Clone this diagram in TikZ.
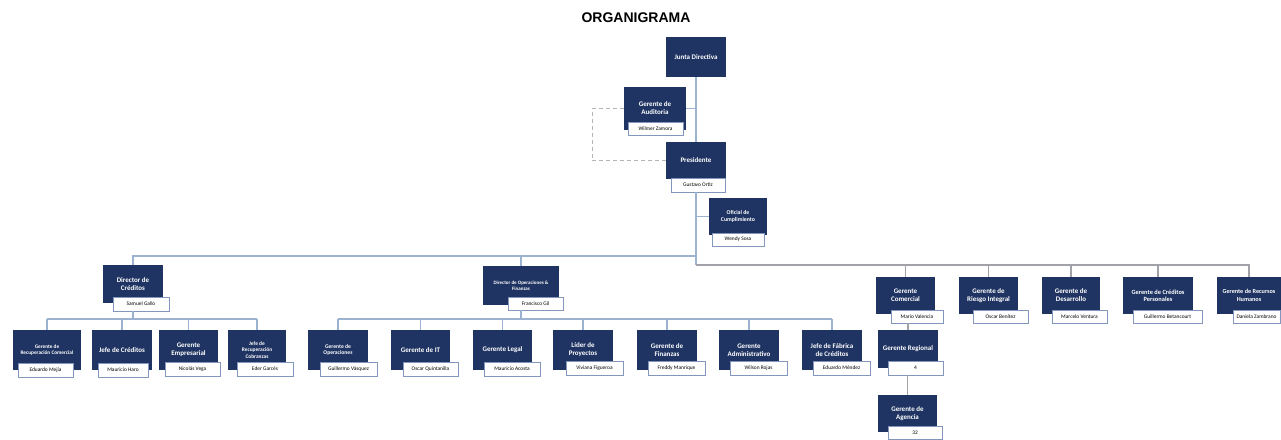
\documentclass[tikz,border=0pt]{standalone}
\usepackage{fontspec}
\setmainfont{Carlito}
\newfontfamily\titlefont{Liberation Sans}
\definecolor{navy}{RGB}{31,52,98}
\definecolor{subline}{RGB}{130,150,190}
\definecolor{connblue}{RGB}{155,178,208}
\definecolor{conngray}{RGB}{160,162,168}
\definecolor{dashgray}{RGB}{180,180,180}
\tikzset{
  mainbox/.style={fill=navy, text=white, font=\bfseries\fontsize{7}{8}\selectfont,
    align=center, anchor=north west, inner sep=0.5pt, outer sep=0pt},
  subbox/.style={fill=white, draw=subline, line width=0.8pt, text=black,
    font=\fontsize{5.4}{6}\selectfont, align=center, anchor=north west,
    inner sep=0.5pt, outer sep=0pt},
  conn/.style={draw=connblue, line width=1.4pt},
  conng/.style={draw=conngray, line width=1.4pt},
  dashconn/.style={draw=dashgray, line width=0.9pt, dashed, dash pattern=on 4pt off 3pt}
}
\newcommand\orgnode[7][]{%
  \pgfmathsetmacro\ow{#4-#2}\pgfmathsetmacro\oh{#5-#3}%
  \node[mainbox, minimum width=\ow pt, minimum height=\oh pt, #1] (#6) at (#2,#3) {#7};}
\newcommand\orgsub[6]{%
  \pgfmathsetmacro\ow{#3-#1}\pgfmathsetmacro\oh{#4-#2}%
  \node[subbox, minimum width=\ow pt, minimum height=\oh pt] (#5) at (#1,#2) {#6};}
\begin{document}
\begin{tikzpicture}[x=1pt,y=-1pt]
\clip (0,0) rectangle (1281,439);
\fill[white] (0,0) rectangle (1281,439);

\node[font=\titlefont\bfseries\fontsize{14}{16}\selectfont, inner sep=0pt] (title) at (636,18) {ORGANIGRAMA};

% top
\orgnode{666}{37}{726}{77}{junta}{Junta Directiva}
\orgnode{624}{87}{686}{130}{aud}{Gerente de\\Auditoria}
\orgsub{628}{122}{683}{135}{aud-s}{Wilmer Zamora}
\orgnode{666}{142}{726}{179}{pres}{Presidente}
\orgsub{671}{178}{725}{192}{pres-s}{Gustavo Ortiz}
\orgnode[font=\bfseries\fontsize{5.8}{6.6}\selectfont]{709}{198}{767}{235}{ofic}{Oficial de\\Cumplimiento}
\orgsub{712}{233}{764}{246}{ofic-s}{Wendy Sosa}

% left directors
\orgnode{103}{265}{163}{303}{dcred}{Director de\\Créditos}
\orgsub{113}{297}{169}{311}{dcred-s}{Samuel Gallo}
\orgnode[font=\bfseries\fontsize{5}{6}\selectfont]{483}{266}{559}{305}{dops}{Director de Operaciones \&\\Finanzas}
\orgsub{508}{297}{563}{310}{dops-s}{Francisco Gil}

% children of Director de Créditos
\orgnode[font=\bfseries\fontsize{5.3}{6.6}\selectfont]{13}{330}{81}{370}{grc}{Gerente de\\Recuperación Comercial}
\orgsub{18}{363}{73}{377}{grc-s}{Eduardo Mejía}
\orgnode{92}{330}{152}{370}{jcred}{Jefe de Créditos}
\orgsub{98}{363}{148}{377}{jcred-s}{Mauricio Haro}
\orgnode{159}{330}{218}{370}{gemp}{Gerente\\Empresarial}
\orgsub{165}{362}{220}{376}{gemp-s}{Nicolás Vega}
\orgnode[font=\bfseries\fontsize{5.4}{6.4}\selectfont]{228}{330}{286}{370}{jrec}{Jefe de\\Recuperación\\Cobranzas}
\orgsub{237}{362}{293}{376}{jrec-s}{Eder Garcés}

% children of Director de Operaciones
\orgnode[font=\bfseries\fontsize{5.6}{6.8}\selectfont]{308}{330}{368}{370}{gops}{Gerente de\\Operaciones}
\orgsub{320}{362}{377}{376}{gops-s}{Guillermo Vásquez}
\orgnode{391}{330}{450}{370}{git}{Gerente de IT}
\orgsub{403}{362}{458}{376}{git-s}{Oscar Quintanilla}
\orgnode{473}{330}{532}{370}{glegal}{Gerente Legal}
\orgsub{484}{362}{540}{376}{glegal-s}{Mauricio Acosta}
\orgnode{553}{330}{613}{370}{lider}{Líder de\\Proyectos}
\orgsub{566}{361}{623}{375}{lider-s}{Viviana Figueroa}
\orgnode{637}{330}{697}{370}{gfin}{Gerente de\\Finanzas}
\orgsub{648}{361}{705}{375}{gfin-s}{Freddy Manrique}
\orgnode{719}{330}{779}{370}{gadm}{Gerente\\Administrativo}
\orgsub{730}{361}{787}{375}{gadm-s}{Wilson Rojas}
\orgnode{802}{330}{862}{370}{jfab}{Jefe de Fábrica\\de Créditos}
\orgsub{813}{361}{870}{375}{jfab-s}{Eduardo Méndez}

% right side
\orgnode{876}{277}{935}{314}{gcom}{Gerente\\Comercial}
\orgsub{891}{310}{943}{323}{gcom-s}{Mario Valencia}
\orgnode{959}{277}{1018}{314}{gries}{Gerente de\\Riesgo Integral}
\orgsub{973}{310}{1028}{323}{gries-s}{Oscar Benítez}
\orgnode{1042}{277}{1100}{314}{gdes}{Gerente de\\Desarrollo}
\orgsub{1052}{310}{1107}{323}{gdes-s}{Marcelo Ventura}
\orgnode[font=\bfseries\fontsize{6.4}{7.4}\selectfont]{1123}{277}{1193}{314}{gcp}{Gerente de Créditos\\Personales}
\orgsub{1133}{310}{1202}{323}{gcp-s}{Guillermo Betancourt}
\orgnode[font=\bfseries\fontsize{6.2}{7.4}\selectfont]{1217}{277}{1281}{314}{grh}{Gerente de Recursos\\Humanos}
\orgsub{1233}{310}{1280}{323}{grh-s}{Daniela Zambrano}

\orgnode{878}{330}{938}{368}{greg}{Gerente Regional}
\orgsub{888}{361}{943}{375}{greg-s}{4}
\orgnode{878}{395}{937}{432}{gag}{Gerente de\\Agencia}
\orgsub{888}{426}{942}{439}{gag-s}{32}

% connectors: top
\coordinate (busL) at (696,256);
\coordinate (busR) at (696,265);
\draw[conn] (junta.south) -- (pres.north);
\draw[conn] (aud.east) -- (aud.east -| junta.south);
\draw[dashconn] (aud.west) -- ++(-32,0) coordinate (dk) |- (pres.west);
\draw[conn] (pres-s.south -| pres.south) -- (busR);
\draw[conn] (ofic.west) -- (ofic.west -| pres.south);
\draw[conn] (busL) -- (busL -| dcred.north) -- (dcred.north);
\draw[conn] (busL -| dops.north) -- (dops.north);
\draw[conng] (busR) -- (busR -| grh.north) -- (grh.north);
\foreach \n in {gcom,gries,gdes,gcp} \draw[conng] (busR -| \n.north) -- (\n.north);

% Director de Créditos children
\coordinate (b1) at (133,319);
\draw[conn] (dcred-s.south -| dcred.south) -- (b1);
\draw[conn] (b1 -| grc.north) -- (b1 -| jrec.north);
\foreach \n in {grc,jcred,gemp,jrec} \draw[conn] (b1 -| \n.north) -- (\n.north);

% Director de Operaciones children
\coordinate (b2) at (521,319);
\draw[conn] (dops-s.south -| dops.south) -- (b2);
\draw[conn] (b2 -| gops.north) -- (b2 -| jfab.north);
\foreach \n in {gops,git,glegal,lider,gfin,gadm,jfab} \draw[conn] (b2 -| \n.north) -- (\n.north);

% Comercial chain
\draw[conng] (greg.north |- gcom-s.south) -- (greg.north);
\draw[conng] (gag.north |- greg-s.south) -- (gag.north);
\end{tikzpicture}
\end{document}
